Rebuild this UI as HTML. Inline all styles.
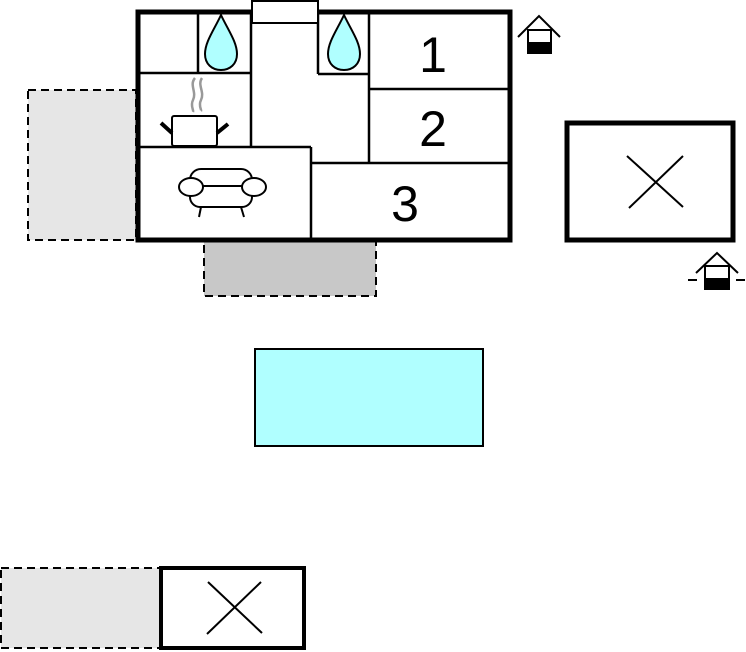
<!DOCTYPE html>
<html><head><style>html,body{margin:0;padding:0;background:#fff}svg{display:block}</style></head>
<body>
<svg width="746" height="652" viewBox="0 0 746 652" xmlns="http://www.w3.org/2000/svg">
<rect x="28" y="90" width="108" height="150" fill="#e6e6e6" stroke="#000" stroke-width="2" stroke-dasharray="8,5"/>
<rect x="204" y="241" width="172" height="55" fill="#c8c8c8" stroke="#000" stroke-width="2" stroke-dasharray="8,5"/>
<rect x="138" y="12" width="372" height="228" fill="#fff" stroke="#000" stroke-width="5"/>
<g stroke="#000" stroke-width="2.5" fill="none">
<line x1="198" y1="12" x2="198" y2="73"/>
<line x1="137" y1="73" x2="251" y2="73"/>
<line x1="251" y1="12" x2="251" y2="147"/>
<line x1="137" y1="147" x2="311" y2="147"/>
<line x1="311" y1="147" x2="311" y2="240"/>
<line x1="318" y1="12" x2="318" y2="74"/>
<line x1="318" y1="74" x2="369" y2="74"/>
<line x1="369" y1="12" x2="369" y2="163"/>
<line x1="369" y1="89" x2="510" y2="89"/>
<line x1="311" y1="163" x2="510" y2="163"/>
</g>
<rect x="252" y="1" width="66" height="22" fill="#fff" stroke="#000" stroke-width="2"/>
<path d="M221 15 C214 30 205 42 205 54 C205 64 212 70 221 70 C230 70 237 64 237 54 C237 42 228 30 221 15Z" fill="#b0ffff" stroke="#000" stroke-width="2"/>
<path d="M344 15 C337 30 328 42 328 54 C328 64 335 70 344 70 C353 70 360 64 360 54 C360 42 351 30 344 15Z" fill="#b0ffff" stroke="#000" stroke-width="2"/>
<g font-family="Liberation Sans, sans-serif" font-size="50" text-anchor="middle" fill="#000">
<text x="433" y="72">1</text><text x="433" y="146">2</text><text x="405" y="221">3</text>
</g>
<g stroke="#999" stroke-width="2.5" fill="none">
<path d="M195 78 C189 85 197 92 193 100 C190 106 194 110 193 112"/>
<path d="M202 78 C197 85 205 92 201 100 C198 106 202 110 201 111"/>
</g>
<rect x="172" y="116" width="45" height="30" rx="2" fill="#fff" stroke="#000" stroke-width="2"/>
<line x1="161" y1="123" x2="172" y2="133" stroke="#000" stroke-width="4"/>
<line x1="217" y1="133" x2="228" y2="124" stroke="#000" stroke-width="4"/>
<g stroke="#000" stroke-width="2" fill="#fff">
<rect x="190" y="169" width="62" height="26" rx="11"/>
<rect x="190" y="186" width="62" height="21" rx="10"/>
<ellipse cx="191" cy="187" rx="12" ry="9"/>
<ellipse cx="254" cy="187" rx="12" ry="9"/>
<line x1="201" y1="207" x2="199" y2="217"/>
<line x1="241" y1="207" x2="244" y2="217"/>
</g>
<rect x="567" y="123" width="166" height="117" fill="#fff" stroke="#000" stroke-width="5"/>
<g stroke="#000" stroke-width="2"><line x1="627" y1="156" x2="683" y2="207"/><line x1="683" y1="156" x2="629" y2="208"/></g>
<g stroke="#000" stroke-width="2" fill="none"><polyline points="518,37 539,16 560,37"/></g>
<rect x="528" y="30" width="23" height="23" fill="#fff" stroke="#000" stroke-width="2"/>
<rect x="528" y="42" width="23" height="11" fill="#000"/>
<g stroke="#000" stroke-width="2" fill="none"><polyline points="696,273 717,253 738,273"/><line x1="688" y1="280" x2="697" y2="280"/><line x1="736" y1="280" x2="745" y2="280"/></g>
<rect x="705" y="266" width="24" height="23" fill="#fff" stroke="#000" stroke-width="2"/>
<rect x="705" y="278" width="24" height="11" fill="#000"/>
<rect x="255" y="349" width="228" height="97" fill="#b0ffff" stroke="#000" stroke-width="2"/>
<rect x="1" y="568" width="159" height="80" fill="#e6e6e6" stroke="#000" stroke-width="2" stroke-dasharray="8,5"/>
<rect x="161" y="568" width="143" height="80" fill="#fff" stroke="#000" stroke-width="4"/>
<g stroke="#000" stroke-width="2"><line x1="208" y1="582" x2="262" y2="633"/><line x1="261" y1="582" x2="207" y2="634"/></g>
</svg>
</body></html>
